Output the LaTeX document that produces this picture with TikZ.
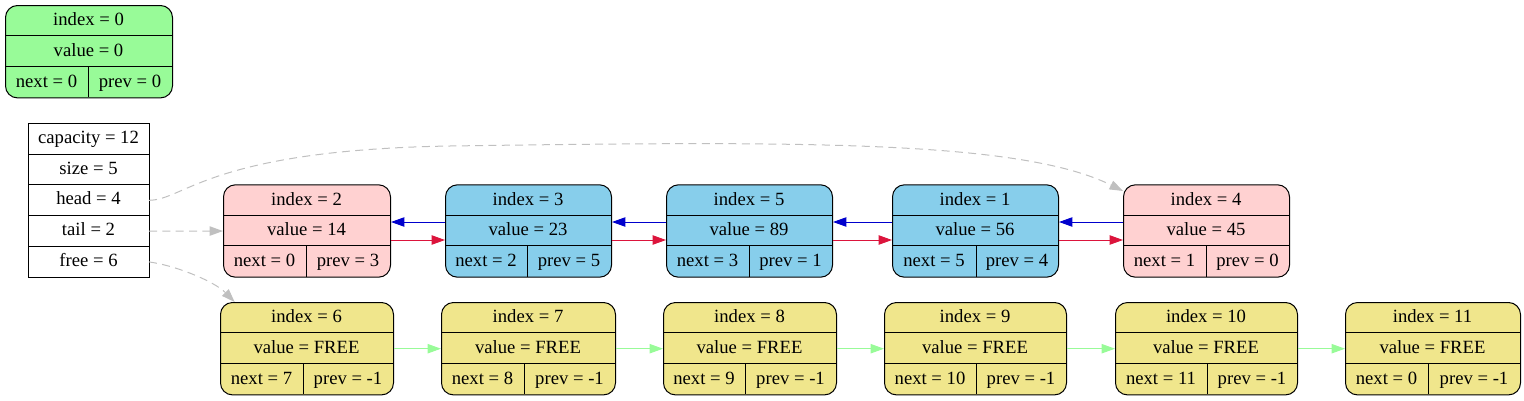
\documentclass[tikz,border=0pt]{standalone}
\usepackage{fontspec}
\setmainfont{Liberation Serif}
\usetikzlibrary{arrows.meta,positioning}

\definecolor{recgreen}{HTML}{98FB98}
\definecolor{recpink}{HTML}{FFD1D1}
\definecolor{recblue}{HTML}{87CEEB}
\definecolor{recyellow}{HTML}{F0E68C}
\definecolor{prevblue}{HTML}{0000CD}
\definecolor{nextred}{HTML}{DC143C}
\definecolor{freegreen}{HTML}{98FB98}
\definecolor{ptrgray}{HTML}{C0C0C0}

\begin{document}
\begin{tikzpicture}[x=0.75pt,y=-0.75pt,>={Triangle[length=10pt,width=7pt]},
    font=\fontsize{14}{16}\selectfont]
    \tikzset{
      rec/.style={
        draw,
        rectangle,
        rounded corners=9pt,
        line width=0.75pt,
        anchor=north west,
        minimum height=69.3pt,
        inner sep=0pt
      },
      cell/.style={
        draw,
        rectangle,
        line width=0.75pt,
        outer sep=0pt,
        minimum width=90.75pt,
        minimum height=23.1pt,
        inner sep=0pt,
        text height=10pt,
        text depth=3pt
      },
      txt/.style={inner sep=0pt, text height=10pt, text depth=3pt},
      prevptr/.style={->, prevblue, line width=0.75pt},
      nextptr/.style={->, nextred, line width=0.75pt},
      freeptr/.style={->, freegreen, line width=0.75pt},
      listptr/.style={->, ptrgray, line width=0.75pt, dash pattern=on 6pt off 4pt}
    };
    \useasboundingbox (0,0) rectangle (1524,400);

    % list nodes
    \foreach \n/\xa/\xb/\xd/\ya/\col/\i/\v/\nx/\pv in {
        r0/5/172/88/5/recgreen/0/0/0/0,
        r2/223/390/306/184.3/recpink/2/14/0/3,
        r3/445/611/527/184.3/recblue/3/23/2/5,
        r5/666/832/749/184.3/recblue/5/89/3/1,
        r1/892/1058/976/184.3/recblue/1/56/5/4,
        r4/1123/1289/1206/184.3/recpink/4/45/1/0,
        f6/220/393/303/302/recyellow/6/FREE/7/-1,
        f7/441/615/524/302/recyellow/7/FREE/8/-1,
        f8/663/836/745/302/recyellow/8/FREE/9/-1,
        f9/884/1066/976/302/recyellow/9/FREE/10/-1,
        f10/1115/1297/1207/302/recyellow/10/FREE/11/-1,
        f11/1345/1520/1428/302/recyellow/11/FREE/0/-1}{
      \node [rec, fill=\col, minimum width={(\xb-\xa)*0.75pt}] (\n) at (\xa,\ya) {};
      \draw [line width=0.75pt] (\xa,\ya+30.8) -- (\xb,\ya+30.8)
        (\xa,\ya+61.6) -- (\xb,\ya+61.6)
        (\xd,\ya+61.6) -- (\xd,\ya+92.4);
      \node [txt] (\n-i) at ({(\xa+\xb)/2},\ya+16.1) {index = \i};
      \node [txt] (\n-v) at ({(\xa+\xb)/2},\ya+46.9) {value = \v};
      \node [txt] (\n-n) at ({(\xa+\xd)/2},\ya+77.7) {next = \nx};
      \node [txt] (\n-p) at ({(\xd+\xb)/2},\ya+77.7) {prev = \pv};
    }

    % list header
    \node [cell, anchor=north west] (cap) at (28,123.3) {capacity = 12};
    \node [cell, below=0pt of cap] (size) {size = 5};
    \node [cell, below=0pt of size] (head) {head = 4};
    \node [cell, below=0pt of head] (tail) {tail = 2};
    \node [cell, below=0pt of tail] (free) {free = 6};

    \foreach \a/\b in {r3/r2, r5/r3, r1/r5, r4/r1}
      \draw [prevptr] ([yshift=6.75pt]\a.west) -- ([yshift=6.75pt]\b.east);
    \foreach \a/\b in {r2/r3, r3/r5, r5/r1, r1/r4}
      \draw [nextptr] ([yshift=-6.75pt]\a.east) -- ([yshift=-6.75pt]\b.west);
    \foreach \a/\b in {f6/f7, f7/f8, f8/f9, f9/f10, f10/f11}
      \draw [freeptr] (\a) -- (\b);

    \draw [listptr] (head.east) .. controls (185,200) and (210,150) .. (450,146)
      .. controls (800,141) and (1020,140) .. ([yshift=-5pt]r4.north west);
    \draw [listptr] (tail) -- (r2);
    \draw [listptr] (free.east) .. controls (178,266) and (215,282) .. ([xshift=11pt]f6.north west);

  \end{tikzpicture}
\end{document}
